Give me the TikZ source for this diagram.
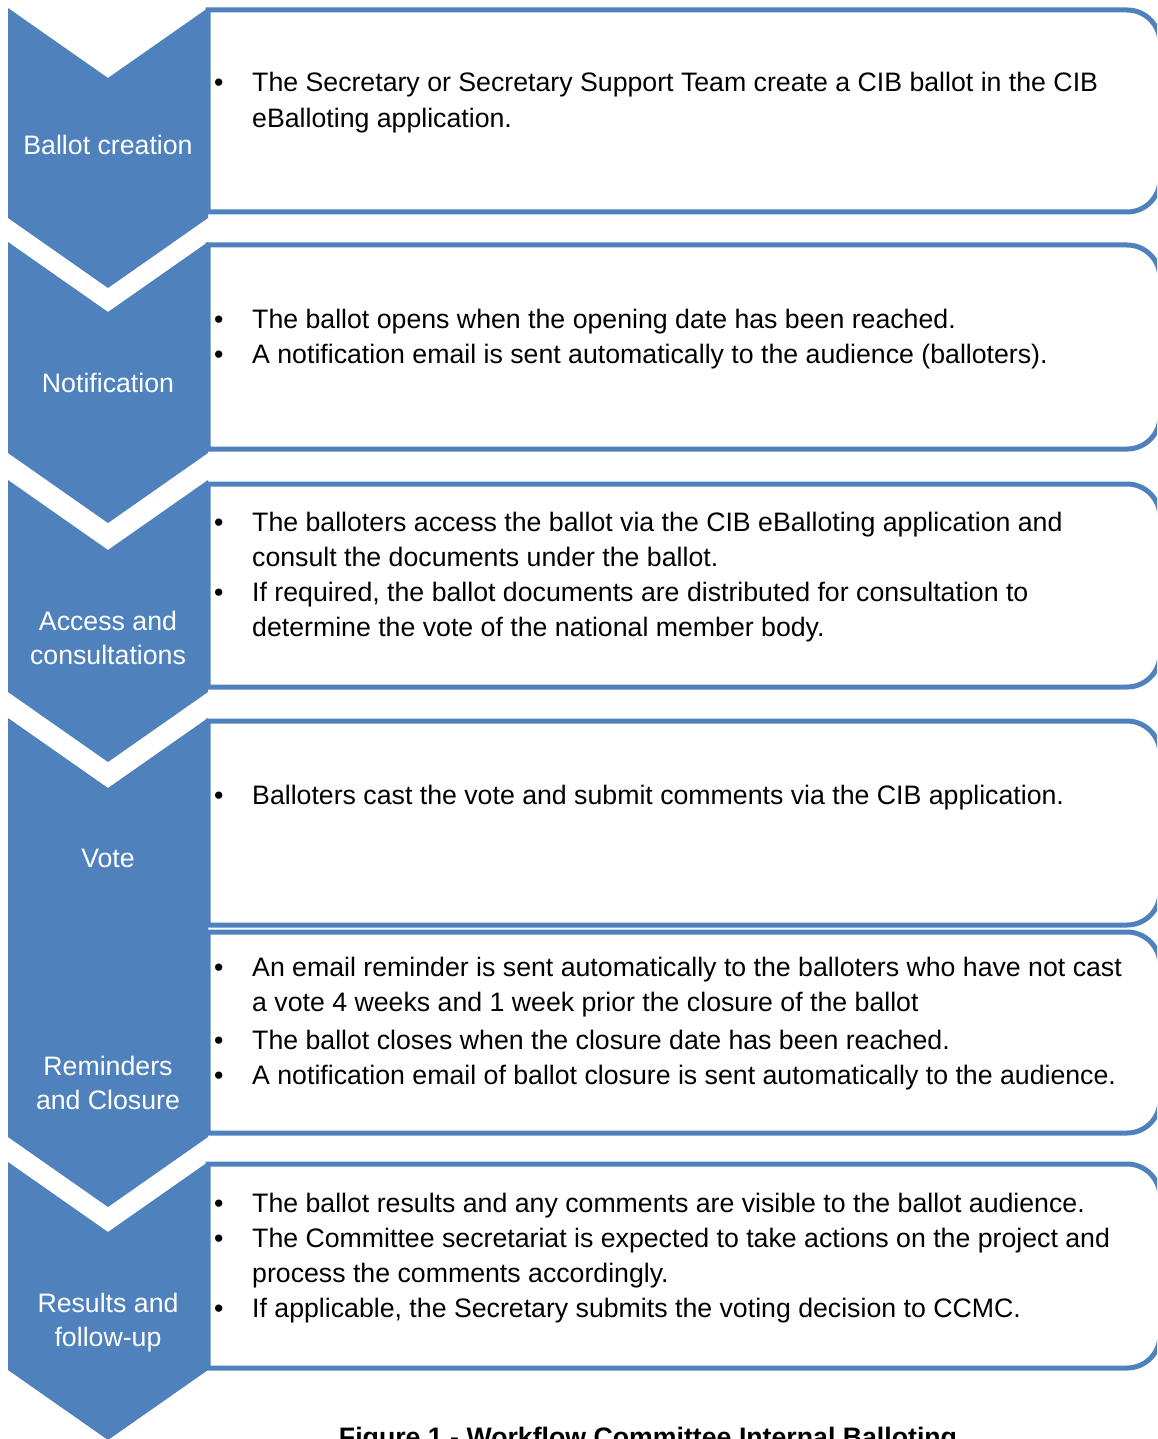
\documentclass[tikz,border=0pt]{standalone}
\usepackage{fontspec}
\setmainfont{Liberation Sans}
\definecolor{stepblue}{RGB}{79,129,189}
\newcommand{\steplist}[1]{\begin{tabular}[t]{@{}p{38pt}@{}l@{}}#1\end{tabular}}
\newcommand{\twolines}[2]{\begin{tabular}[t]{@{}c@{}}#1\\#2\end{tabular}}

\begin{document}
\begin{tikzpicture}[x=1pt, y=-1pt,
    chevron/.style={fill=stepblue},
    stepbox/.style={draw=stepblue, line width=5pt, fill=white},
    steplabel/.style={anchor=base, inner sep=0pt, text=white, font=\fontsize{26.7}{34}\selectfont},
    steptext/.style={anchor=base west, inner sep=0pt, font=\fontsize{26.7}{35.3}\selectfont}]

\useasboundingbox (0,0) rectangle (1157,1439);
\clip (0,0) rectangle (1157,1439);

% text boxes
\foreach \t/\b in {10/212, 245/449, 484/687, 721/925, 932/1133, 1164/1368}
    \draw[stepbox] (208,\t) -- (1127,\t) arc[start angle=-90, end angle=0, radius=33]
        -- (1160,\b-33) arc[start angle=0, end angle=90, radius=33] -- (208,\b) -- cycle;

% chevrons
\foreach \t/\b in {8/218, 242/453, 480/692, 718/930, 928/1137, 1162/1370}
    \fill[chevron] (8,\t) -- (108,\t+70) -- (208,\t) -- (208,\b) -- (108,\b+70) -- (8,\b) -- cycle;

\node[steplabel] (lab1) at (108,155) {Ballot creation};
\node[steplabel] (lab2) at (108,392) {Notification};
\node[steplabel] (lab3) at (108,630) {\twolines{Access and}{consultations}};
\node[steplabel] (lab4) at (108,867) {Vote};
\node[steplabel] (lab5) at (108,1075) {\twolines{Reminders}{and Closure}};
\node[steplabel] (lab6) at (108,1312) {\twolines{Results and}{follow-up}};

\node[steptext] (txt1) at (214,92) {\steplist{
    \textbullet & The Secretary or Secretary Support Team create a CIB ballot in the CIB\\
    & eBalloting application.}};
\node[steptext] (txt2) at (214,328) {\steplist{
    \textbullet & The ballot opens when the opening date has been reached.\\
    \textbullet & A notification email is sent automatically to the audience (balloters).}};
\node[steptext] (txt3) at (214,531) {\steplist{
    \textbullet & The balloters access the ballot via the CIB eBalloting application and\\
    & consult the documents under the ballot.\\
    \textbullet & If required, the ballot documents are distributed for consultation to\\
    & determine the vote of the national member body.}};
\node[steptext] (txt4) at (214,804) {\steplist{
    \textbullet & Balloters cast the vote and submit comments via the CIB application.}};
\node[steptext] (txt5) at (214,976) {\steplist{
    \textbullet & An email reminder is sent automatically to the balloters who have not cast\\
    & a vote 4 weeks and 1 week prior the closure of the ballot\\[2.7pt]
    \textbullet & The ballot closes when the closure date has been reached.\\
    \textbullet & A notification email of ballot closure is sent automatically to the audience.}};
\node[steptext] (txt6) at (214,1212) {\steplist{
    \textbullet & The ballot results and any comments are visible to the ballot audience.\\
    \textbullet & The Committee secretariat is expected to take actions on the project and\\
    & process the comments accordingly.\\
    \textbullet & If applicable, the Secretary submits the voting decision to CCMC.}};

\node[anchor=base, inner sep=0pt, font=\bfseries\fontsize{26.7}{32}\selectfont] (caption)
    at (648,1446) {Figure 1 - Workflow Committee Internal Balloting};
\end{tikzpicture}
\end{document}
